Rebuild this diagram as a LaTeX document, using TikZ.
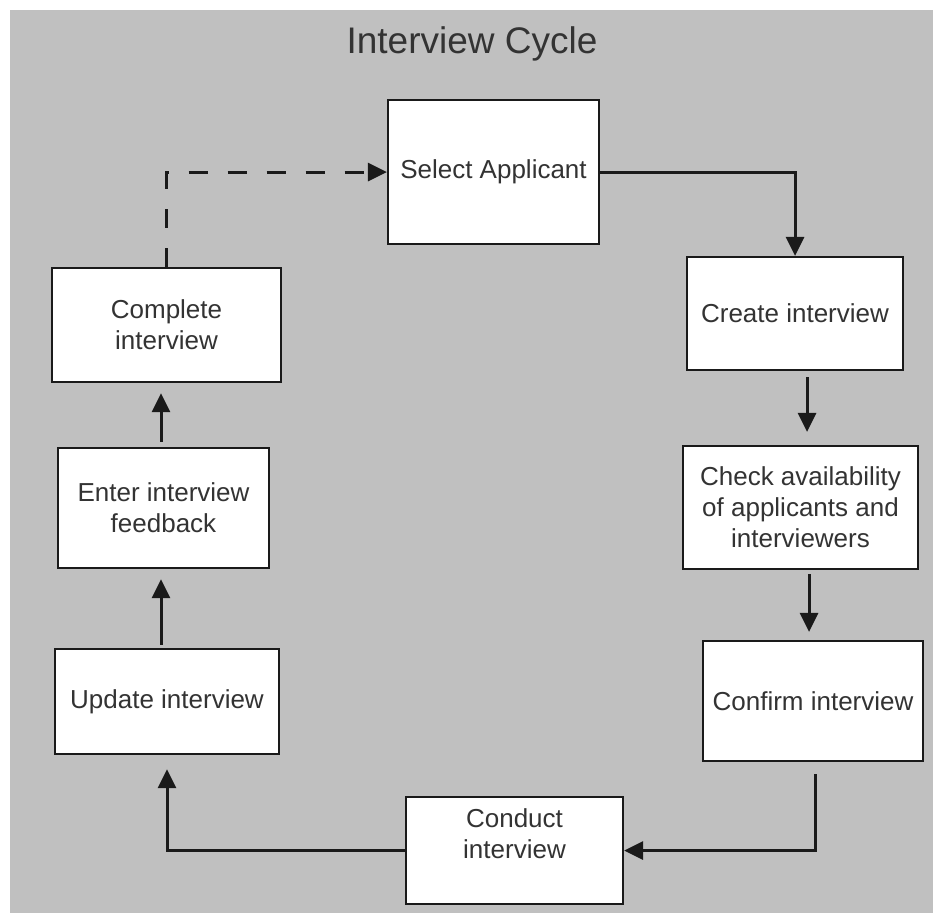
\documentclass[tikz,border=0pt]{standalone}
\usepackage{fontspec}
\setmainfont{Liberation Sans}
\usetikzlibrary{arrows.meta,calc}
\definecolor{bg}{HTML}{C0C0C0}
\definecolor{txt}{HTML}{333333}
\definecolor{ln}{HTML}{1A1A1A}
\begin{document}
\begin{tikzpicture}[x=1pt,y=-1pt,
  box/.style={draw=ln, line width=2.2pt, fill=white, inner sep=0pt, align=center, text=txt, font=\fontsize{26}{31}\selectfont},
  lab/.style={align=center, text=txt, font=\fontsize{26}{31}\selectfont, inner sep=0pt},
  conn/.style={draw=ln, line width=3pt, -{Triangle[length=19pt,width=18pt]}}]
\useasboundingbox (0,0) rectangle (933,913);
\fill[white] (0,0) rectangle (933,913);
\fill[bg] (10,10) rectangle (933,913);

\node[font=\fontsize{37}{44}\selectfont, text=txt] (title) at (472,44) {Interview Cycle};

\node[box, minimum width=211pt, minimum height=144pt] (sel) at (493.5,172) {Select Applicant};
\node[box, minimum width=216pt, minimum height=113pt] (cre) at (795,313.5) {Create interview};
\node[box, minimum width=235pt, minimum height=123pt] (che) at (800.5,507.5) {Check availability\\of applicants and\\interviewers};
\node[box, minimum width=220pt, minimum height=120pt] (cnf) at (813,701) {Confirm interview};
\node[box, minimum width=217pt, minimum height=107pt, label={[lab, yshift=17pt]center:Conduct\\interview}] (con) at (514.5,850.5) {};
\node[box, minimum width=224pt, minimum height=105pt] (upd) at (167,701.5) {Update interview};
\node[box, minimum width=211pt, minimum height=120pt] (ent) at (163.5,508) {Enter interview\\feedback};
\node[box, minimum width=229pt, minimum height=114pt] (cmp) at (166.5,325) {Complete\\interview};

\draw[conn] (sel.east) -| (cre.north);
\draw[conn] ($(cre.south)+(12,6)$) -- ($(che.north)+(6.5,-13)$);
\draw[conn] ($(che.south)+(8.5,4)$) -- ($(cnf.north)+(-4,-8)$);
\draw[conn] ($(cnf.south)+(2,12)$) |- (con.east);
\draw[conn] (con.west) -| ($(upd.south)+(0,14)$);
\draw[conn] ($(upd.north)+(-6,-3)$) -- ($(ent.south)+(-2.5,10)$);
\draw[conn] ($(ent.north)+(-2.5,-5)$) -- ($(cmp.south)+(-5.5,10)$);
\draw[conn, dash pattern=on 19pt off 20pt] (cmp.north) |- (sel.west);
\end{tikzpicture}
\end{document}
